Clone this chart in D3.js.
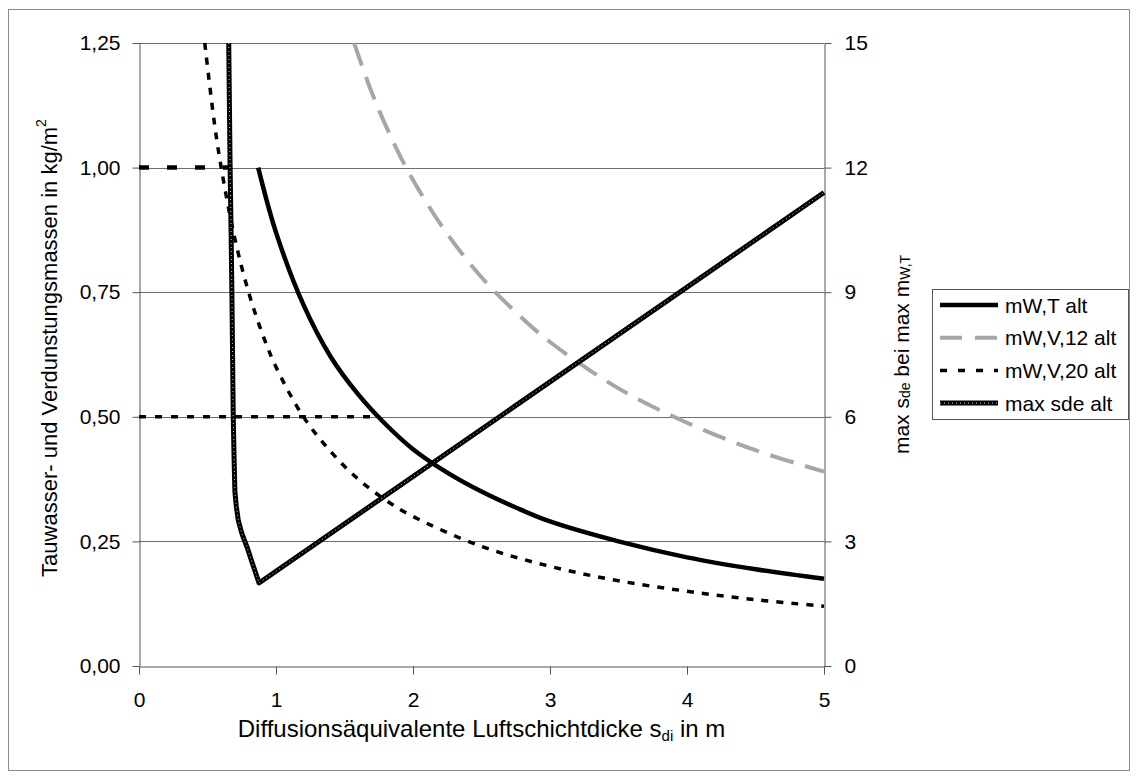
<!DOCTYPE html>
<html>
<head>
<meta charset="utf-8">
<script src="https://cdn.jsdelivr.net/npm/d3@7"></script>
<style>
  body { margin: 0; background: #fff; }
  text { font-family: "Liberation Sans", Arial, sans-serif; fill: #000; }
</style>
</head>
<body>
<script>
// tick values
var xTicks = [0, 1, 2, 3, 4, 5];
var yLeftTicks = [0, 0.25, 0.5, 0.75, 1.0, 1.25];
var yRightTicks = [0, 3, 6, 9, 12, 15];

// mW,T alt (left axis)
var sdiT = [0.87, 1.0, 1.2, 1.4, 1.6, 1.8, 2.0, 2.25, 2.5, 2.75, 3.0, 3.5, 4.0, 4.5, 5.0];
var mWT  = [1.00, 0.87, 0.725, 0.62, 0.545, 0.485, 0.435, 0.388, 0.35, 0.318, 0.29, 0.25, 0.218, 0.194, 0.175];

// mW,V,12 alt (left axis)
var sdiV12 = [1.57, 1.7, 1.85, 2.0, 2.25, 2.5, 2.75, 3.0, 3.5, 4.0, 4.5, 5.0];
var mWV12  = [1.25, 1.15, 1.055, 0.975, 0.867, 0.78, 0.71, 0.65, 0.557, 0.488, 0.433, 0.39];

// mW,V,20 alt (left axis)
var sdiV20 = [0.48, 0.55, 0.6, 0.7, 0.8, 0.9, 1.0, 1.2, 1.4, 1.6, 1.8, 2.0, 2.5, 3.0, 3.5, 4.0, 4.5, 5.0];
var mWV20  = [1.25, 1.09, 1.0, 0.857, 0.75, 0.667, 0.6, 0.5, 0.43, 0.375, 0.333, 0.3, 0.24, 0.2, 0.171, 0.15, 0.133, 0.12];

// max sde alt (right axis)
var sdiMax = [0.655, 0.66, 0.665, 0.672, 0.678, 0.683, 0.688, 0.694, 0.70, 0.71, 0.725, 0.75, 0.79, 0.83, 0.876, 5.0];
var sdeMax = [15, 13.5, 12, 10.5, 9, 7.5, 6, 5, 4.2, 3.85, 3.5, 3.2, 2.85, 2.45, 2.0, 11.4];

// horizontal dashed helper lines (left axis)
var refY    = [1.0, 0.5];
var refXEnd = [0.68, 1.76];

var legendLabels = ['mW,T alt', 'mW,V,12 alt', 'mW,V,20 alt', 'max sde alt'];

var svgWidth = 1138, svgHeight = 779;
var plotLeft = 139, plotRight = 824, plotTop = 43, plotBottom = 666;

var svg = d3.select('body').append('svg')
    .attr('width', svgWidth)
    .attr('height', svgHeight);

// outer border
svg.append('rect')
    .attr('x', 8.5).attr('y', 9.5)
    .attr('width', 1121).attr('height', 761)
    .attr('fill', 'none').attr('stroke', '#8c8c8c').attr('stroke-width', 1);

var xScale = d3.scaleLinear().domain([0, 5]).range([plotLeft, plotRight]);
var yLeft = d3.scaleLinear().domain([0, 1.25]).range([plotBottom, plotTop]);
var yRight = d3.scaleLinear().domain([0, 15]).range([plotBottom, plotTop]);

var fmtLeft = function(d) { return d3.format('.2f')(d).replace('.', ','); };

// gridlines
svg.append('g').selectAll('line')
    .data(yLeftTicks.filter(function(d) { return d > 0; }))
    .enter().append('line')
    .attr('x1', plotLeft).attr('x2', plotRight)
    .attr('y1', function(d) { return Math.round(yLeft(d)) + 0.5; })
    .attr('y2', function(d) { return Math.round(yLeft(d)) + 0.5; })
    .attr('stroke', '#6e6e6e').attr('stroke-width', 1);

// axes
var axisLeft = svg.append('g')
    .attr('transform', 'translate(' + (plotLeft + 0.5) + ',0)')
    .call(d3.axisLeft(yLeft).tickValues(yLeftTicks).tickFormat(fmtLeft).tickSizeOuter(0).tickSizeInner(7).tickPadding(12));
var axisRight = svg.append('g')
    .attr('transform', 'translate(' + (plotRight + 0.5) + ',0)')
    .call(d3.axisRight(yRight).tickValues(yRightTicks).tickFormat(d3.format('d')).tickSizeOuter(0).tickSizeInner(7).tickPadding(13));
var axisBottom = svg.append('g')
    .attr('transform', 'translate(0,' + (plotBottom + 0.5) + ')')
    .call(d3.axisBottom(xScale).tickValues(xTicks).tickFormat(d3.format('d')).tickSizeOuter(0).tickSizeInner(8).tickPadding(18));

[axisLeft, axisRight, axisBottom].forEach(function(ax) {
    ax.select('.domain').attr('stroke', '#555');
    ax.selectAll('.tick line').attr('stroke', '#555');
    ax.selectAll('.tick text')
        .style('font-family', '"Liberation Sans", Arial, sans-serif')
        .style('font-size', '21px')
        .attr('fill', '#000');
});

// helper dashed lines
svg.append('line')
    .attr('x1', xScale(0)).attr('x2', xScale(refXEnd[0]))
    .attr('y1', yLeft(refY[0])).attr('y2', yLeft(refY[0]))
    .attr('stroke', '#000').attr('stroke-width', 4.5)
    .attr('stroke-dasharray', '10,18');
svg.append('line')
    .attr('x1', xScale(0)).attr('x2', xScale(refXEnd[1]))
    .attr('y1', yLeft(refY[1])).attr('y2', yLeft(refY[1]))
    .attr('stroke', '#000').attr('stroke-width', 3.5)
    .attr('stroke-dasharray', '7,9');

var lineLeft = d3.line()
    .x(function(d) { return xScale(d[0]); })
    .y(function(d) { return yLeft(d[1]); })
    .curve(d3.curveCatmullRom);

var lineRight = d3.line()
    .x(function(d) { return xScale(d[0]); })
    .y(function(d) { return yRight(d[1]); });

svg.append('clipPath').attr('id', 'plot')
    .append('rect').attr('x', plotLeft - 10).attr('y', plotTop - 1)
    .attr('width', plotRight - plotLeft + 20).attr('height', plotBottom - plotTop + 2);

var plot = svg.append('g').attr('clip-path', 'url(#plot)');

// mW,V,12
plot.append('path')
    .datum(d3.zip(sdiV12, mWV12))
    .attr('d', lineLeft)
    .attr('fill', 'none').attr('stroke', '#a6a6a6').attr('stroke-width', 4)
    .attr('stroke-dasharray', '24,12');

// mW,V,20
plot.append('path')
    .datum(d3.zip(sdiV20, mWV20))
    .attr('d', lineLeft)
    .attr('fill', 'none').attr('stroke', '#000').attr('stroke-width', 3.5)
    .attr('stroke-dasharray', '7,8');

// max sde (textured thick line)
plot.append('path')
    .datum(d3.zip(sdiMax, sdeMax))
    .attr('d', lineRight)
    .attr('fill', 'none').attr('stroke', '#000').attr('stroke-width', 5)
    .attr('stroke-linejoin', 'round');
plot.append('path')
    .datum(d3.zip(sdiMax, sdeMax))
    .attr('d', lineRight)
    .attr('fill', 'none').attr('stroke', '#fff').attr('stroke-width', 1)
    .attr('stroke-dasharray', '1,3').attr('opacity', 0.8);

// mW,T
plot.append('path')
    .datum(d3.zip(sdiT, mWT))
    .attr('d', lineLeft)
    .attr('fill', 'none').attr('stroke', '#000').attr('stroke-width', 4.5);

// axis titles
svg.append('text')
    .attr('transform', 'translate(49,348) rotate(-90)')
    .attr('text-anchor', 'middle').attr('dominant-baseline', 'central')
    .style('font-size', '22px')
    .call(function(t) {
        t.append('tspan').text('Tauwasser- und Verdunstungsmassen in kg/m');
        t.append('tspan').attr('dy', -8).style('font-size', '14px').text('2');
    });

svg.append('text')
    .attr('x', (plotLeft + plotRight) / 2).attr('y', 737)
    .attr('text-anchor', 'middle')
    .style('font-size', '24px')
    .call(function(t) {
        t.append('tspan').text('Diffusionsäquivalente Luftschichtdicke s');
        t.append('tspan').attr('dy', 4).style('font-size', '15px').text('di');
        t.append('tspan').attr('dy', -4).text(' in m');
    });

svg.append('text')
    .attr('transform', 'translate(901,' + ((plotTop + plotBottom) / 2) + ') rotate(-90)')
    .attr('text-anchor', 'middle').attr('dominant-baseline', 'central')
    .style('font-size', '21px')
    .call(function(t) {
        t.append('tspan').text('max s');
        t.append('tspan').attr('dy', 4).style('font-size', '14px').text('de');
        t.append('tspan').attr('dy', -4).text(' bei max m');
        t.append('tspan').attr('dy', 4).style('font-size', '14px').text('W,T');
    });

// legend
var legend = svg.append('g');
legend.append('rect')
    .attr('x', 932.5).attr('y', 289.5).attr('width', 196).attr('height', 130)
    .attr('fill', '#fff').attr('stroke', '#555').attr('stroke-width', 1);

var legendStyles = [
    { stroke: '#000', width: 4.5, dash: null },
    { stroke: '#a6a6a6', width: 4, dash: '22,13' },
    { stroke: '#000', width: 3.5, dash: '7,11' },
    { stroke: '#000', width: 5, dash: null, texture: true }
];

legendLabels.forEach(function(label, i) {
    var y = 305 + i * 32.7;
    var s = legendStyles[i];
    legend.append('line')
        .attr('x1', 940).attr('x2', 998).attr('y1', y).attr('y2', y)
        .attr('stroke', s.stroke).attr('stroke-width', s.width)
        .attr('stroke-dasharray', s.dash);
    if (s.texture) {
        legend.append('line')
            .attr('x1', 940).attr('x2', 998).attr('y1', y).attr('y2', y)
            .attr('stroke', '#fff').attr('stroke-width', 1)
            .attr('stroke-dasharray', '1,3').attr('opacity', 0.8);
    }
    legend.append('text')
        .attr('x', 1005).attr('y', y)
        .attr('dominant-baseline', 'central')
        .style('font-size', '21px')
        .text(label);
});
</script>
</body>
</html>
